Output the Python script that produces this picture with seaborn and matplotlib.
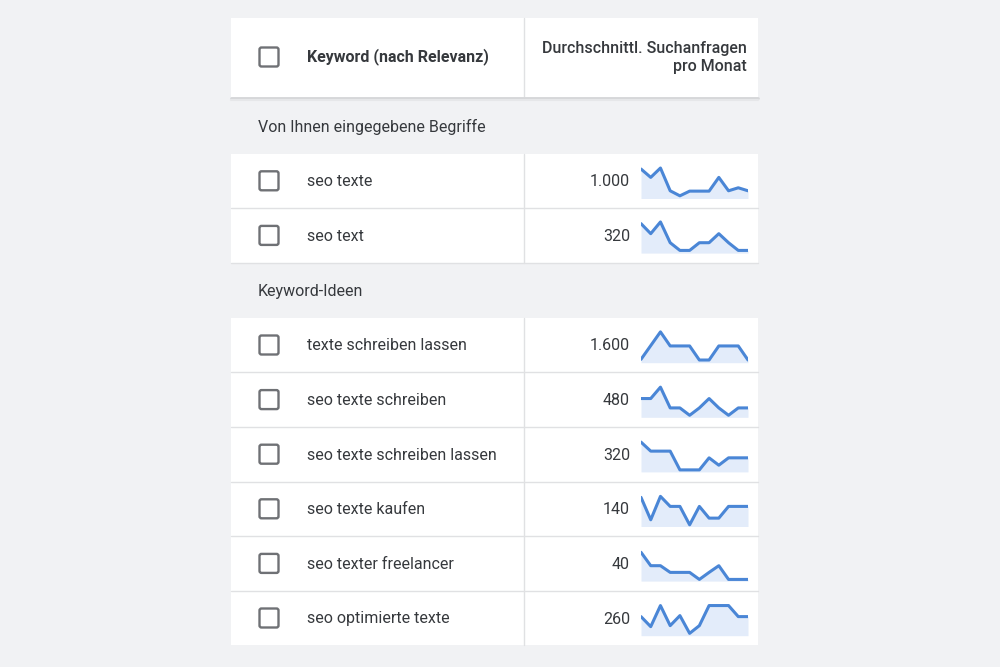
import numpy as np
import pandas as pd
import seaborn as sns
import matplotlib.pyplot as plt
from matplotlib.patches import Rectangle, FancyBboxPatch

# =========================
# Daten
# =========================
abschnitte = ["Von Ihnen eingegebene Begriffe", "Keyword-Ideen"]

keywords_eingegeben = ["seo texte", "seo text"]
suchvolumen_eingegeben = [1000, 320]
trends_eingegeben = [
    [88, 63, 91, 23, 8, 22, 22, 22, 63, 23, 32, 23],
    [88, 58, 93, 31, 8, 8, 31, 31, 58, 31, 8, 8],
]

keywords_ideen = [
    "texte schreiben lassen",
    "seo texte schreiben",
    "seo texte schreiben lassen",
    "seo texte kaufen",
    "seo texter freelancer",
    "seo optimierte texte",
]
suchvolumen_ideen = [1600, 480, 320, 140, 40, 260]
trends_ideen = [
    [10, 51, 92, 50, 50, 50, 8, 8, 50, 50, 50, 8],
    [56, 56, 90, 28, 28, 6, 28, 56, 28, 6, 28, 28],
    [89, 62, 62, 62, 6, 6, 6, 42, 20, 42, 42, 42],
    [87, 20, 90, 60, 60, 5, 60, 25, 25, 60, 60, 60],
    [86, 46, 46, 26, 26, 26, 5, 26, 46, 5, 5, 5],
    [57, 27, 90, 30, 60, 7, 30, 90, 90, 90, 57, 57],
]
monate = list(range(12))

header_keyword = "Keyword (nach Relevanz)"
header_volumen = "Durchschnittl. Suchanfragen\npro Monat"

# =========================
# Stil
# =========================
sns.set_style("white")
plt.rcParams["font.family"] = ["Roboto", "DejaVu Sans"]

BG = "#f1f2f4"
TXT = "#36393d"
LINIE = "#e0e1e3"
BLAU = "#4a86d6"
FUELL = "#e3ecfa"
FS = 11.5

W, H = 1000, 667
fig = plt.figure(figsize=(10, 6.67), dpi=100, facecolor=BG)
ax = fig.add_axes([0, 0, 1, 1])
ax.set_xlim(0, W)
ax.set_ylim(H, 0)
ax.axis("off")

TL, TR = 231, 758   # Tabellenränder
SPLIT = 523.5       # Spaltentrenner
ROW = 54.6


def checkbox(y):
    ax.add_patch(FancyBboxPatch((259.5, y - 9.5), 19, 19,
                                boxstyle="round,pad=0,rounding_size=2",
                                fill=False, edgecolor="#6f7175", lw=1.7))


def fmt(n):
    return f"{n:,}".replace(",", ".")


def datenzeile(top, kw, vol, trend):
    ax.add_patch(Rectangle((TL, top), TR - TL, ROW, facecolor="white", lw=0))
    mid = top + ROW / 2
    checkbox(mid)
    ax.text(307, mid + 1, kw, fontsize=FS, color=TXT, va="center", ha="left")
    ax.text(630, mid + 1, fmt(vol), fontsize=FS, color=TXT, va="center", ha="right")
    ax.plot([SPLIT, SPLIT], [top, top + ROW], color=LINIE, lw=1)
    if top + ROW < 640:
        ax.plot([TL, TR], [top + ROW, top + ROW], color=LINIE, lw=1)

    # Sparkline
    y0, y1 = top + 11.5, top + 45
    sax = fig.add_axes([641 / W, 1 - y1 / H, 107 / W, (y1 - y0) / H])
    df = pd.DataFrame({"monat": monate, "wert": trend})
    sax.fill_between(df["monat"], 0, df["wert"], color=FUELL, lw=0)
    sns.lineplot(data=df, x="monat", y="wert", ax=sax, color=BLAU, lw=2.2)
    sax.set_xlim(0, 11)
    sax.set_ylim(0, 100)
    sax.axis("off")


def abschnitt(top, titel, h=55):
    ax.text(258, top + h / 2 + 1, titel, fontsize=FS, color=TXT, va="center", ha="left")
    return top + h


# =========================
# Kopfzeile
# =========================
ax.add_patch(Rectangle((TL, 18), TR - TL, 79, facecolor="white", lw=0))
ax.plot([SPLIT, SPLIT], [18, 97], color=LINIE, lw=1)
ax.plot([TL, TR], [97.5, 97.5], color="#d6d7d9", lw=2)
ax.plot([TL, TR], [99.5, 99.5], color="#e6e7e9", lw=1.5)
checkbox(57)
ax.text(307, 57, header_keyword, fontsize=FS, color=TXT, fontweight="bold",
        va="center", ha="left")
ax.text(747, 57.5, header_volumen, fontsize=FS, color=TXT, fontweight="medium",
        va="center", ha="right", multialignment="right", linespacing=1.3)

# =========================
# Zeilen
# =========================
y = 98.5
y = abschnitt(y, abschnitte[0])
for kw, vol, tr in zip(keywords_eingegeben, suchvolumen_eingegeben, trends_eingegeben):
    datenzeile(y, kw, vol, tr)
    y += ROW
y = abschnitt(y, abschnitte[1])
for kw, vol, tr in zip(keywords_ideen, suchvolumen_ideen, trends_ideen):
    datenzeile(y, kw, vol, tr)
    y += ROW

fig.savefig("out.png", dpi=100, facecolor=BG)
